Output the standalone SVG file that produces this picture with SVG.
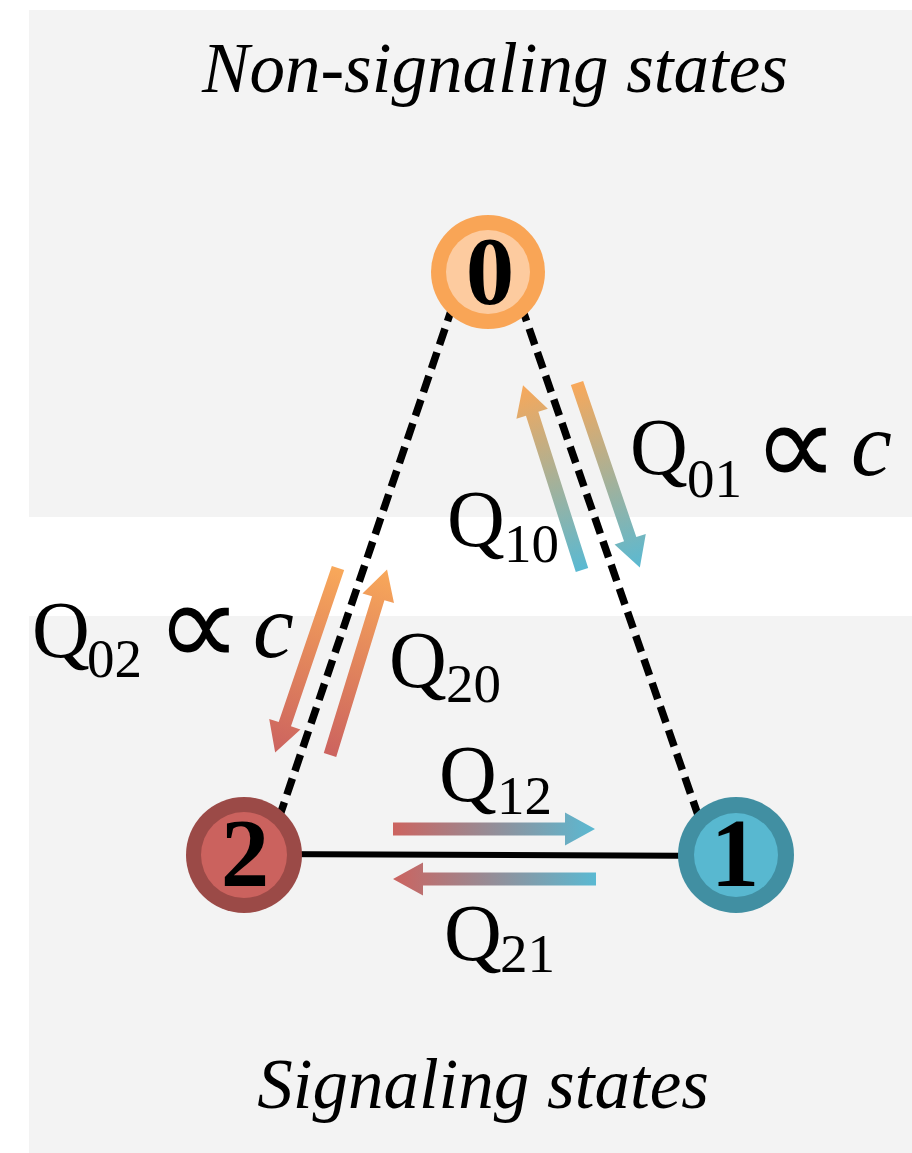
<svg xmlns="http://www.w3.org/2000/svg" width="912" height="1153" viewBox="0 0 912 1153">
<style>
.bg{fill:#f3f3f3}
.dash{stroke:#000;stroke-width:7.5;stroke-dasharray:17 8;fill:none}
.solid{stroke:#000;stroke-width:6;fill:none}
.digit{font-family:"Liberation Serif",serif;font-weight:bold;font-size:97px;text-anchor:middle;fill:#000}
.q{font-family:"Liberation Serif",serif;font-size:80px;fill:#000}
.sub{font-family:"Liberation Serif",serif;font-size:55px;fill:#000}
.prop{font-family:"DejaVu Sans",sans-serif;font-weight:200;font-size:120px;text-anchor:middle;fill:#000}
.c{font-family:"Liberation Serif",serif;font-style:italic;font-size:92px;fill:#000}
.title{font-family:"Liberation Serif",serif;font-style:italic;font-size:71px;text-anchor:middle;fill:#000}
</style>
<defs>
<linearGradient id="gOB" gradientUnits="userSpaceOnUse" x1="0" y1="0" x2="195" y2="0"><stop offset="0" stop-color="#f8a85a"/><stop offset="1" stop-color="#5ab9d2"/></linearGradient>
<linearGradient id="gBO" gradientUnits="userSpaceOnUse" x1="0" y1="0" x2="194" y2="0"><stop offset="0" stop-color="#5ab9d2"/><stop offset="1" stop-color="#f8a85a"/></linearGradient>
<linearGradient id="gOR" gradientUnits="userSpaceOnUse" x1="0" y1="0" x2="195" y2="0"><stop offset="0" stop-color="#f8a85a"/><stop offset="1" stop-color="#cc635f"/></linearGradient>
<linearGradient id="gRO" gradientUnits="userSpaceOnUse" x1="0" y1="0" x2="194" y2="0"><stop offset="0" stop-color="#cc635f"/><stop offset="1" stop-color="#f8a85a"/></linearGradient>
<linearGradient id="gRB" gradientUnits="userSpaceOnUse" x1="0" y1="0" x2="202" y2="0"><stop offset="0" stop-color="#cc635f"/><stop offset="1" stop-color="#5ab9d2"/></linearGradient>
<linearGradient id="gBR" gradientUnits="userSpaceOnUse" x1="0" y1="0" x2="203" y2="0"><stop offset="0" stop-color="#5ab9d2"/><stop offset="1" stop-color="#cc635f"/></linearGradient>
</defs>
<g id="background">
<rect class="bg" x="29" y="10" width="883" height="507"/>
<rect class="bg" x="29" y="616" width="883" height="537"/>
</g>
<g id="connectors">
<line class="dash" x1="453" y1="305" x2="280" y2="815"/>
<line class="dash" x1="521" y1="305" x2="698" y2="815"/>
<line class="solid" x1="244" y1="854" x2="736" y2="856"/>
</g>
<g id="rate-arrows">
<polygon fill="url(#gOB)" transform="translate(577,383) rotate(71.2)" points="0,-6.5 165,-6.5 165,-16.5 195,0 165,16.5 165,6.5 0,6.5"/>
<polygon fill="url(#gBO)" transform="translate(582,570) rotate(-107.7)" points="0,-6.5 164,-6.5 164,-16.5 194,0 164,16.5 164,6.5 0,6.5"/>
<polygon fill="url(#gOR)" transform="translate(338,568) rotate(108.8)" points="0,-6.5 165,-6.5 165,-16.5 195,0 165,16.5 165,6.5 0,6.5"/>
<polygon fill="url(#gRO)" transform="translate(330,755) rotate(-72.9)" points="0,-6.5 164,-6.5 164,-16.5 194,0 164,16.5 164,6.5 0,6.5"/>
<polygon fill="url(#gRB)" transform="translate(393,829) rotate(0)" points="0,-6.5 172,-6.5 172,-16.5 202,0 172,16.5 172,6.5 0,6.5"/>
<polygon fill="url(#gBR)" transform="translate(596,879) rotate(180)" points="0,-6.5 173,-6.5 173,-16.5 203,0 173,16.5 173,6.5 0,6.5"/>
</g>
<g id="node0">
<circle cx="488" cy="272" r="57" fill="#f9a556"/>
<circle cx="488" cy="272" r="42" fill="#fdcb9f"/>
<text class="digit" x="490" y="304">0</text>
</g>
<g id="node2">
<circle cx="244" cy="855" r="58" fill="#9b4a47"/>
<circle cx="244" cy="855" r="43" fill="#cb625e"/>
<text class="digit" x="245" y="886">2</text>
</g>
<g id="node1">
<circle cx="736" cy="855" r="58" fill="#418fa2"/>
<circle cx="736" cy="855" r="42" fill="#58b8d0"/>
<text class="digit" x="735" y="886">1</text>
</g>
<g id="labels">
<text class="title" x="495" y="92">Non-signaling states</text>
<text class="title" x="483" y="1108">Signaling states</text>
<text class="q" x="630" y="474">Q</text><text class="sub" x="687" y="497">01</text><text class="prop" x="796" y="486">∝</text><text class="c" x="851" y="475">c</text>
<text class="q" x="447" y="546">Q</text><text class="sub" x="504" y="562">10</text>
<text class="q" x="32" y="657">Q</text><text class="sub" x="87" y="677">02</text><text class="prop" x="199" y="666">∝</text><text class="c" x="253" y="657">c</text>
<text class="q" x="389" y="687">Q</text><text class="sub" x="446" y="702">20</text>
<text class="q" x="439" y="801">Q</text><text class="sub" x="497" y="814">12</text>
<text class="q" x="444" y="960">Q</text><text class="sub" x="500" y="972">21</text>
</g>
</svg>
